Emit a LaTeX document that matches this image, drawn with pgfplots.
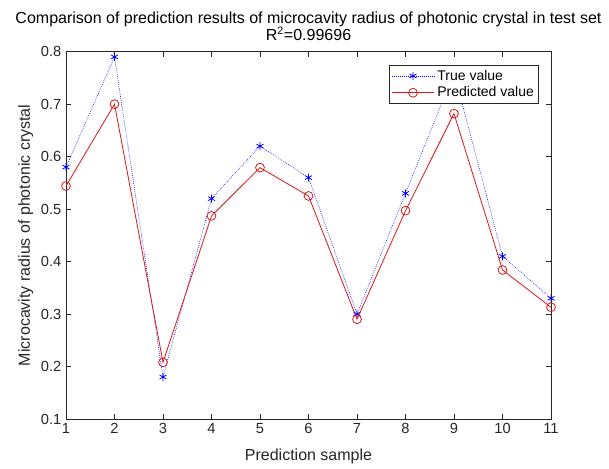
\documentclass[border=0pt]{standalone}
\usepackage{fontspec}
\setmainfont{Liberation Sans}
\usepackage{pgfplots}
\pgfplotsset{compat=1.18}
\definecolor{axgray}{rgb}{0.15,0.15,0.15}
\definecolor{mred}{rgb}{0.85,0.1,0.1}
\definecolor{mblue}{rgb}{0,0,1}
\begin{document}
\begin{tikzpicture}
\begin{axis}[
  scale only axis, width=363.75pt, height=275.5pt,
  xmin=1, xmax=11, ymin=0.1, ymax=0.8,
  xtick={1,2,3,4,5,6,7,8,9,10,11},
  ytick={0.1,0.2,0.3,0.4,0.5,0.6,0.7,0.8},
  yticklabel style={/pgf/number format/.cd, fixed, precision=1, fixed zerofill},
  /pgf/number format/assume math mode=true,
  tick align=inside, major tick length=3.75pt,
  axis line style={axgray, line width=0.5pt},
  every tick/.style={axgray, line width=0.5pt},
  ticklabel style={font=\fontsize{11}{13}\selectfont, text=axgray},
  xlabel={Prediction sample},
  ylabel={Microcavity radius of photonic crystal},
  label style={font=\fontsize{12}{14}\selectfont, text=axgray},
  xlabel style={yshift=-4.5pt},
  ylabel style={yshift=-1pt},
  title={Comparison of prediction results of microcavity radius of photonic crystal in test set\\[-1pt]R\textsuperscript{2}=0.99696},
  title style={align=center, font=\fontsize{12}{11.5}\selectfont, anchor=south, at={(0.5,1)}, inner sep=0pt, yshift=2pt},
  legend style={at={(0.975,0.964)}, anchor=north east, draw=axgray, line width=0.5pt,
    font=\fontsize{10.5}{12}\selectfont, legend cell align=left, inner sep=1.5pt,
    row sep=-0.5pt},
  legend image code/.code={\draw[mark repeat=2,mark phase=2] plot coordinates {(0pt,0pt)(16pt,0pt)(32pt,0pt)};},
]
\addplot[mblue, dash pattern=on 0.6pt off 0.9pt, line width=0.4pt, mark=asterisk, mark size=3pt, mark options={solid, line width=0.6pt}]
  coordinates {(1,0.58)(2,0.79)(3,0.18)(4,0.52)(5,0.62)(6,0.56)(7,0.30)(8,0.53)(9,0.76)(10,0.41)(11,0.33)};
\addlegendentry{True value}
\addplot[mred, solid, line width=0.6pt, mark=o, mark size=3.3pt, mark options={solid}]
  coordinates {(1,0.544)(2,0.700)(3,0.208)(4,0.487)(5,0.579)(6,0.525)(7,0.290)(8,0.497)(9,0.682)(10,0.384)(11,0.313)};
\addlegendentry{Predicted value}
\end{axis}
\useasboundingbox ([shift={(-49.5pt,-33pt)}]current axis.south west) rectangle ([shift={(407.25pt,314.25pt)}]current axis.south west);
\end{tikzpicture}
\end{document}
